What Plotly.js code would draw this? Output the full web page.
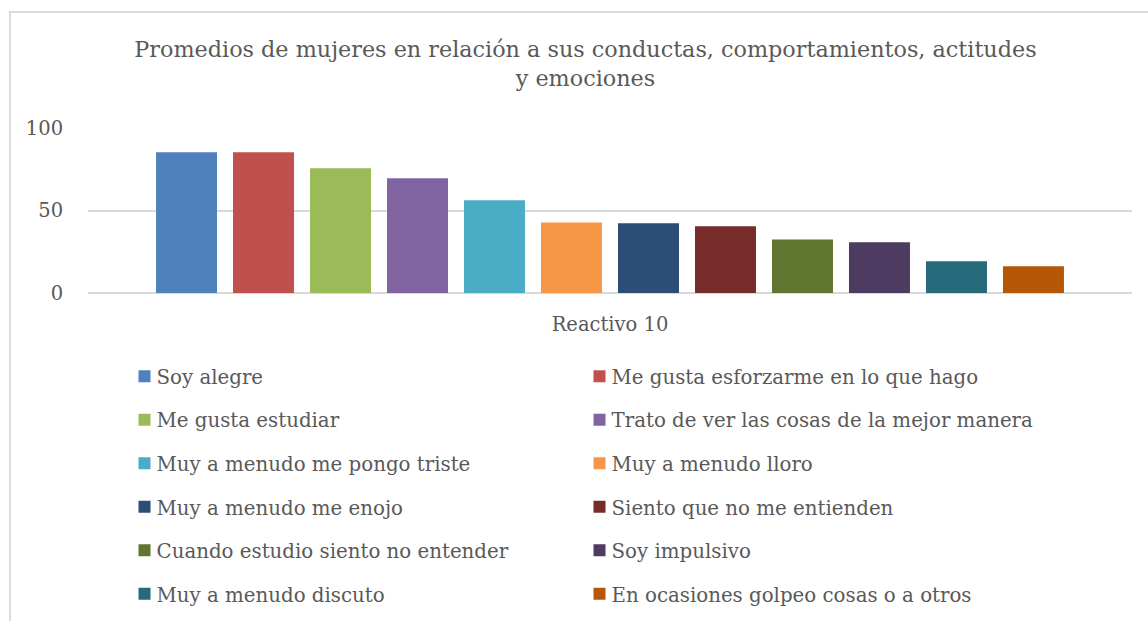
<!DOCTYPE html>
<html>
<head>
<meta charset="utf-8">
<script src="https://cdn.plot.ly/plotly-3.0.1.min.js"></script>
<style>
html,body{margin:0;padding:0;background:#fff;}
#chart{width:1148px;height:621px;}
#frame{position:absolute;left:9px;top:11px;width:1200px;height:700px;border-left:2px solid #dcdcdc;border-top:2px solid #dcdcdc;pointer-events:none;}
</style>
</head>
<body>
<div id="chart"></div>
<div id="frame"></div>
<script>
var category = ["Reactivo 10"];
var seriesNames = [
  "Soy alegre",
  "Me gusta esforzarme en lo que hago",
  "Me gusta estudiar",
  "Trato de ver las cosas de la mejor manera",
  "Muy a menudo me pongo triste",
  "Muy a menudo lloro",
  "Muy a menudo me enojo",
  "Siento que no me entienden",
  "Cuando estudio siento no entender",
  "Soy impulsivo",
  "Muy a menudo discuto",
  "En ocasiones golpeo cosas o a otros"
];
var seriesValues = [85.3, 85.3, 75.6, 69.5, 56.2, 42.8, 42.2, 40.4, 32.5, 30.7, 19.2, 16.2];
var seriesColors = ["#4F81BD","#C0504D","#9BBB59","#8064A2","#4BACC6","#F79646","#2C4D75","#772C2A","#5F7530","#4D3B62","#276A7C","#B65708"];
var yTicks = [0, 50, 100];

var FONT = "DejaVu Serif, Cambria, serif";
var GREY = "#595959";

var traces = seriesNames.map(function(name, i){
  return {
    type: "bar",
    name: name,
    x: category,
    y: [seriesValues[i]],
    marker: {color: seriesColors[i], line: {width: 0}},
    legend: (i % 2 === 0) ? "legend" : "legend2",
    legendgroup: "g" + i,
    hoverinfo: "name+y"
  };
});

var legendCommon = {
  orientation: "v",
  traceorder: "grouped",
  tracegroupgap: 14.8,
  font: {family: FONT, size: 19.8, color: GREY},
  bgcolor: "rgba(0,0,0,0)",
  yanchor: "top",
  xanchor: "left"
};

var layout = {
  width: 1148,
  height: 621,
  paper_bgcolor: "#ffffff",
  plot_bgcolor: "#ffffff",
  margin: {l: 88, r: 16, t: 128, b: 328, pad: 0, autoexpand: false},
  font: {family: FONT, color: GREY},
  title: {
    text: "Promedios de mujeres en relación a sus conductas, comportamientos, actitudes<br>y emociones",
    font: {family: FONT, size: 22.3, color: GREY},
    x: 0.51, xanchor: "center",
    y: 1 - 57/621, yanchor: "middle",
    xref: "container", yref: "container"
  },
  barmode: "group",
  bargap: 0.115,
  bargroupgap: 0.208,
  xaxis: {
    type: "category",
    showgrid: false,
    showline: false,
    zeroline: false,
    ticks: "outside",
    ticklen: 14,
    tickcolor: "rgba(0,0,0,0)",
    tickfont: {family: FONT, size: 19.5, color: GREY},
    fixedrange: true
  },
  yaxis: {
    range: [0, 100],
    tickvals: yTicks,
    ticktext: yTicks.map(String),
    showgrid: true,
    gridcolor: "#d9d9d9",
    gridwidth: 1.5,
    zeroline: true,
    zerolinecolor: "#d9d9d9",
    zerolinewidth: 1.5,
    showline: false,
    ticks: "outside",
    ticklen: 20,
    tickcolor: "rgba(0,0,0,0)",
    tickfont: {family: FONT, size: 19.5, color: GREY},
    fixedrange: true
  },
  legend: Object.assign({}, legendCommon, {x: (124.5 - 88)/1044, y: (292.7 - 356.5)/165}),
  legend2: Object.assign({}, legendCommon, {x: (579.5 - 88)/1044, y: (292.7 - 356.5)/165}),
  showlegend: true
};

function tightenLegendText(){
  var gd = document.getElementById("chart");
  gd.querySelectorAll("text").forEach(function(t){
    if (seriesNames.indexOf(t.textContent) !== -1) {
      t.setAttribute("x", "32");
      t.querySelectorAll("tspan").forEach(function(s){ if (s.hasAttribute("x")) s.setAttribute("x", "32"); });
    }
  });
}

Plotly.newPlot("chart", traces, layout, {displayModeBar: false, responsive: false}).then(function(gd){
  tightenLegendText();
  gd.on("plotly_afterplot", tightenLegendText);
  requestAnimationFrame(tightenLegendText);
  setTimeout(tightenLegendText, 30);
});
</script>
</body>
</html>
